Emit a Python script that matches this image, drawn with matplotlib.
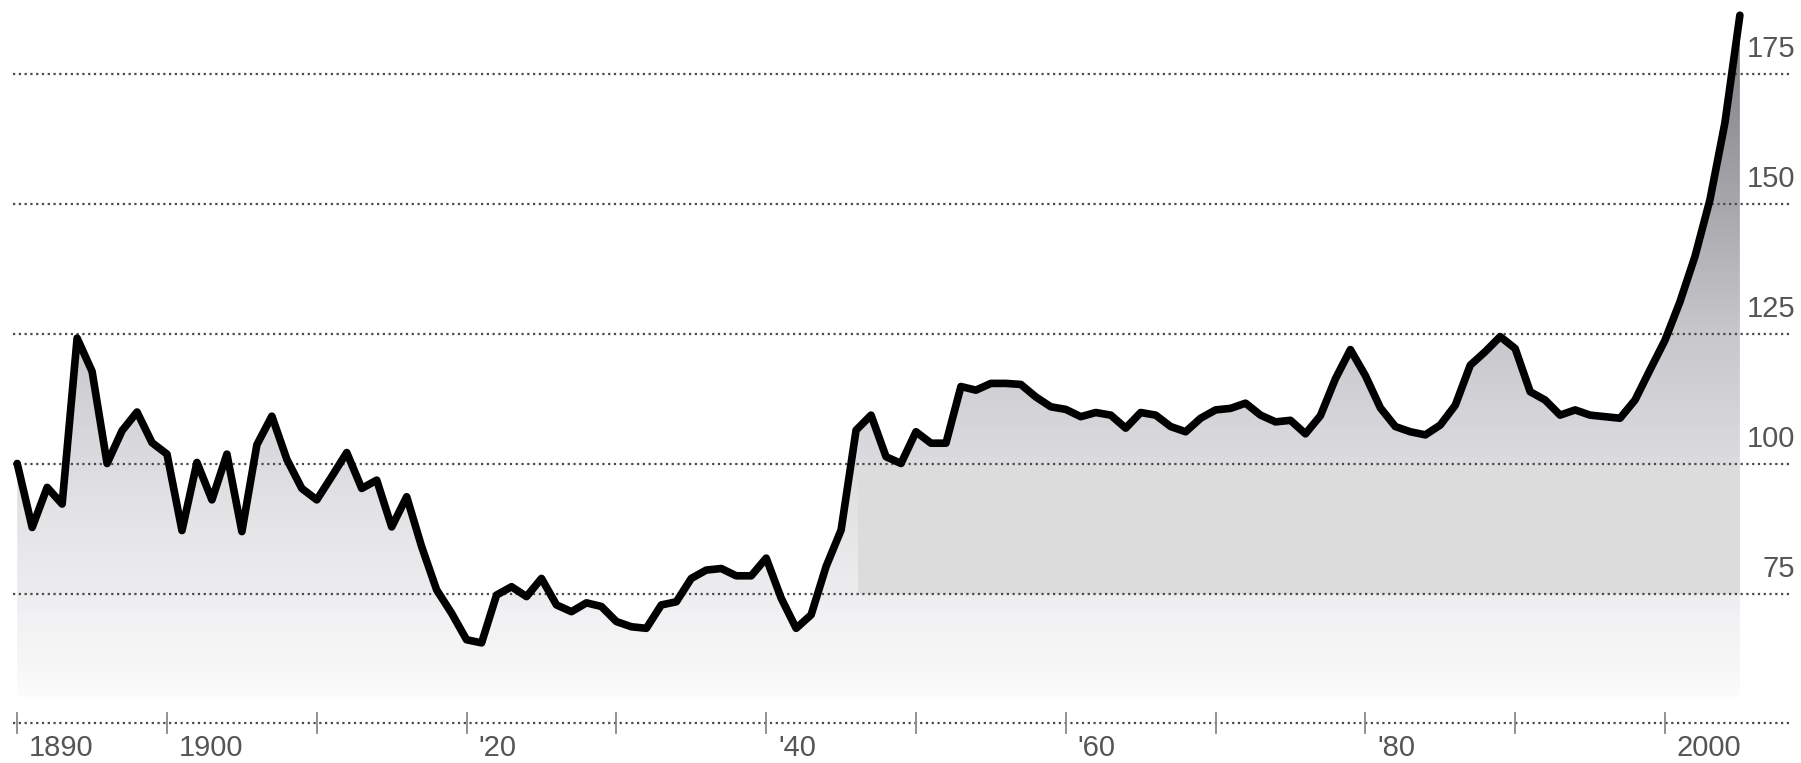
import numpy as np
import matplotlib
matplotlib.use('Agg')
from matplotlib import pyplot as plt
from matplotlib.colors import LinearSegmentedColormap

# home price index, 1890 = 100
years = np.arange(1890, 2006)
index = [100.1, 87.8, 95.5, 92.3, 124.2, 117.8, 100.1, 106.4, 110.0, 104.1,
         101.9, 87.2, 100.3, 93.1, 101.9, 87.0, 103.7, 109.2, 100.9, 95.3,
         93.1, 97.6, 102.2, 95.3, 96.9, 87.9, 93.7, 84.1, 75.8, 71.3,
         66.2, 65.6, 74.8, 76.4, 74.5, 78.0, 72.9, 71.6, 73.3, 72.6,
         69.7, 68.7, 68.4, 72.9, 73.5, 78.0, 79.6, 79.9, 78.5, 78.5,
         81.9, 74.2, 68.4, 71.0, 80.3, 87.3, 106.5, 109.4, 101.4, 100.1,
         106.2, 104.0, 104.0, 114.9, 114.2, 115.5, 115.5, 115.3, 112.9, 111.0,
         110.5, 109.1, 109.9, 109.4, 106.9, 109.9, 109.4, 107.2, 106.2, 108.8,
         110.4, 110.7, 111.7, 109.4, 108.1, 108.4, 105.8, 109.3, 116.4, 122.0,
         117.0, 110.8, 107.2, 106.2, 105.6, 107.5, 111.3, 119.0, 121.6, 124.5,
         122.2, 113.9, 112.3, 109.4, 110.4, 109.4, 109.1, 108.8, 112.3, 118.1,
         123.8, 131.2, 139.9, 150.8, 165.6, 186.3]
index = np.array(index)

grid_values = [75, 100, 125, 150, 175]
tick_years = np.arange(1890, 2001, 10)
tick_labels = {1890: '1890', 1900: '1900', 1920: "'20", 1940: "'40",
               1960: "'60", 1980: "'80", 2000: '2000'}
postwar_start = 1946.1

plt.rcParams['font.family'] = ['Liberation Sans', 'DejaVu Sans']

fig = plt.figure(figsize=(18.01, 7.63), dpi=100)
ax = fig.add_axes([0, 0, 1, 1])
ax.set_xlim(1888.852, 2009.08)
ax.set_ylim(42.5, 189.23)
ax.axis('off')

fill_bottom = 55.2
top = 189.23

# gradient fill under the line
stops = [(55.2, '#fcfcfd'), (62, '#f6f6f7'), (70, '#f2f1f3'), (75, '#ededef'),
         (90, '#e4e4e7'), (100, '#dcdce0'), (125, '#c8c8cc'), (150, '#a8a8ac'),
         (top, '#78787c')]
cmap = LinearSegmentedColormap.from_list(
    'fade', [((v - fill_bottom) / (top - fill_bottom), c) for v, c in stops])
grad = np.linspace(0, 1, 500)[:, None]
poly = ax.fill_between(years, fill_bottom, index, color='none', lw=0)
img = ax.imshow(grad, cmap=cmap, origin='lower', aspect='auto',
                extent=[years[0], years[-1] + 0.2, fill_bottom, top], zorder=1)
img.set_clip_path(poly.get_paths()[0], transform=ax.transData)

# flat grey block after the war
post = years >= 1946
xs = np.concatenate([[postwar_start], years[post]])
ys = np.concatenate([[np.interp(postwar_start, years, index)], index[post]])
ax.fill_between(xs, 75, np.minimum(ys, 100), color='#dcdcdc', lw=0, zorder=1.5)

# dotted grid
dots = dict(color='#4a4a4a', lw=1.6, ls=(0, (1, 1.6)), dash_capstyle='butt', zorder=2)
for v in grid_values:
    ax.plot([1889.72, 2008.48], [v, v], **dots)
    ax.text(2008.68, v + 2.1, str(v), ha='right', va='bottom',
            fontsize=21, color='#555555')

# bottom axis
ax.plot([1889.72, 2008.48], [50.19, 50.19], **dots)
for yr in tick_years:
    ax.plot([yr, yr], [48.3, 52.1], color='#888888', lw=1.3, zorder=2)
    if yr in tick_labels:
        ax.text(yr + 0.8, 45.4, tick_labels[yr], ha='left', va='center',
                fontsize=21, color='#555555')

ax.plot(years, index, color='black', lw=5.5, solid_joinstyle='round',
        solid_capstyle='round', zorder=3)

fig.savefig('out.png', dpi=100, facecolor='white')
